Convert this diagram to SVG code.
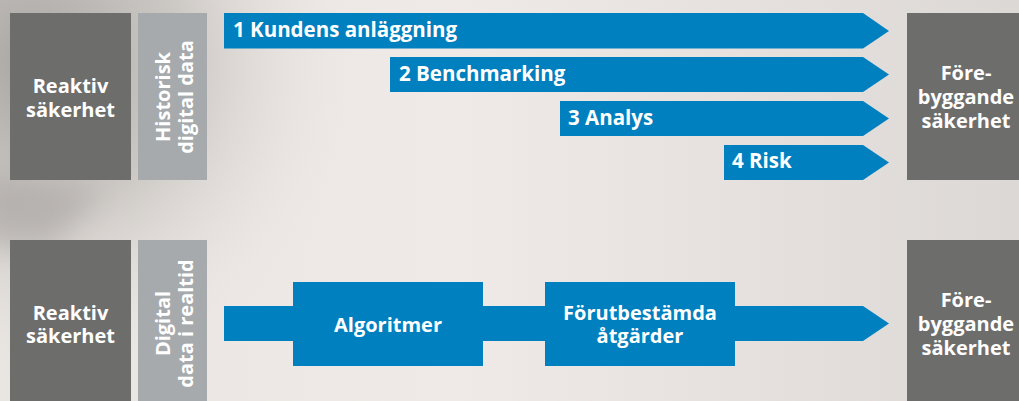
<svg xmlns="http://www.w3.org/2000/svg" width="1019" height="401" viewBox="0 0 1019 401">
  <style>
    .dark { fill: #6d6e6c; }
    .light { fill: #a6aaad; }
    .blue { fill: #0080bf; }
    text { font-family: "Open Sans", "Liberation Sans", sans-serif; font-weight: bold; fill: #ffffff; font-size: 20px; }
    .step { font-size: 20.5px; }
    .mid { text-anchor: middle; }
  </style>
  <defs>
    <linearGradient id="bgBase" x1="0" y1="0" x2="1" y2="0">
      <stop offset="0" stop-color="#e9e5e1"/>
      <stop offset="0.45" stop-color="#efeae7"/>
      <stop offset="1" stop-color="#dcd8d5"/>
    </linearGradient>
    <radialGradient id="shade" cx="30" cy="60" r="340" gradientUnits="userSpaceOnUse">
      <stop offset="0" stop-color="#a9a6a3" stop-opacity="1"/>
      <stop offset="0.45" stop-color="#c4c0bc" stop-opacity="0.8"/>
      <stop offset="1" stop-color="#efeae7" stop-opacity="0"/>
    </radialGradient>
    <filter id="soft" x="-50%" y="-50%" width="200%" height="200%">
      <feGaussianBlur stdDeviation="14"/>
    </filter>
  </defs>

  <!-- backdrop -->
  <rect x="0" y="0" width="1019" height="401" fill="url(#bgBase)"/>
  <rect x="0" y="0" width="1019" height="401" fill="url(#shade)"/>
  <path d="M-20,175 L100,190 L50,250 L-20,245 Z" fill="#9e9a97" opacity="0.45" filter="url(#soft)"/>

  <!-- upper row: historical data -->
  <g id="reactive-top">
    <rect class="dark" x="10" y="13" width="121" height="167"/>
    <text class="mid" x="70.5" y="93">Reaktiv</text>
    <text class="mid" x="70.5" y="117">säkerhet</text>
  </g>
  <g id="historic-data">
    <rect class="light" x="138" y="13" width="69" height="167"/>
    <g transform="translate(0,97) rotate(-90)">
      <text class="mid" x="0" y="170">Historisk</text>
      <text class="mid" x="0" y="193">digital data</text>
    </g>
  </g>
  <g id="preventive-top">
    <rect class="dark" x="907" y="13" width="120" height="167"/>
    <text class="mid" x="966" y="80">Före-</text>
    <text class="mid" x="966" y="104">byggande</text>
    <text class="mid" x="966" y="128">säkerhet</text>
  </g>

  <g id="connectors">
    <g id="step-1">
      <path class="blue" d="M224,13 H863 L889,31 L863,48.5 H224 Z"/>
      <text class="step" x="233" y="37">1 Kundens anläggning</text>
    </g>
    <g id="step-2">
      <path class="blue" d="M390,57 H863 L889,74.5 L863,92 H390 Z"/>
      <text class="step" x="399" y="81">2 Benchmarking</text>
    </g>
    <g id="step-3">
      <path class="blue" d="M560,101 H863 L889,118.5 L863,136 H560 Z"/>
      <text class="step" x="568" y="125">3 Analys</text>
    </g>
    <g id="step-4">
      <path class="blue" d="M724,145 H863 L889,162.5 L863,180 H724 Z"/>
      <text class="step" x="732" y="168">4 Risk</text>
    </g>
    <path id="realtime-flow" class="blue" d="M224,306 H863 L889,323.5 L863,341 H224 Z"/>
  </g>

  <!-- lower row: real-time data -->
  <g id="reactive-bottom">
    <rect class="dark" x="10" y="240" width="121" height="170"/>
    <text class="mid" x="70.5" y="320">Reaktiv</text>
    <text class="mid" x="70.5" y="343">säkerhet</text>
  </g>
  <g id="realtime-data">
    <rect class="light" x="138" y="240" width="69" height="170"/>
    <g transform="translate(0,323.5) rotate(-90)">
      <text class="mid" x="0" y="170">Digital</text>
      <text class="mid" x="0" y="193">data i realtid</text>
    </g>
  </g>
  <g id="algorithms">
    <rect class="blue" x="293" y="282" width="190" height="84"/>
    <text class="mid" x="388" y="332">Algoritmer</text>
  </g>
  <g id="predefined-actions">
    <rect class="blue" x="545" y="282" width="190" height="84"/>
    <text class="mid" x="640" y="320">Förutbestämda</text>
    <text class="mid" x="640" y="343">åtgärder</text>
  </g>
  <g id="preventive-bottom">
    <rect class="dark" x="907" y="240" width="120" height="170"/>
    <text class="mid" x="966" y="307">Före-</text>
    <text class="mid" x="966" y="331">byggande</text>
    <text class="mid" x="966" y="355">säkerhet</text>
  </g>
</svg>
